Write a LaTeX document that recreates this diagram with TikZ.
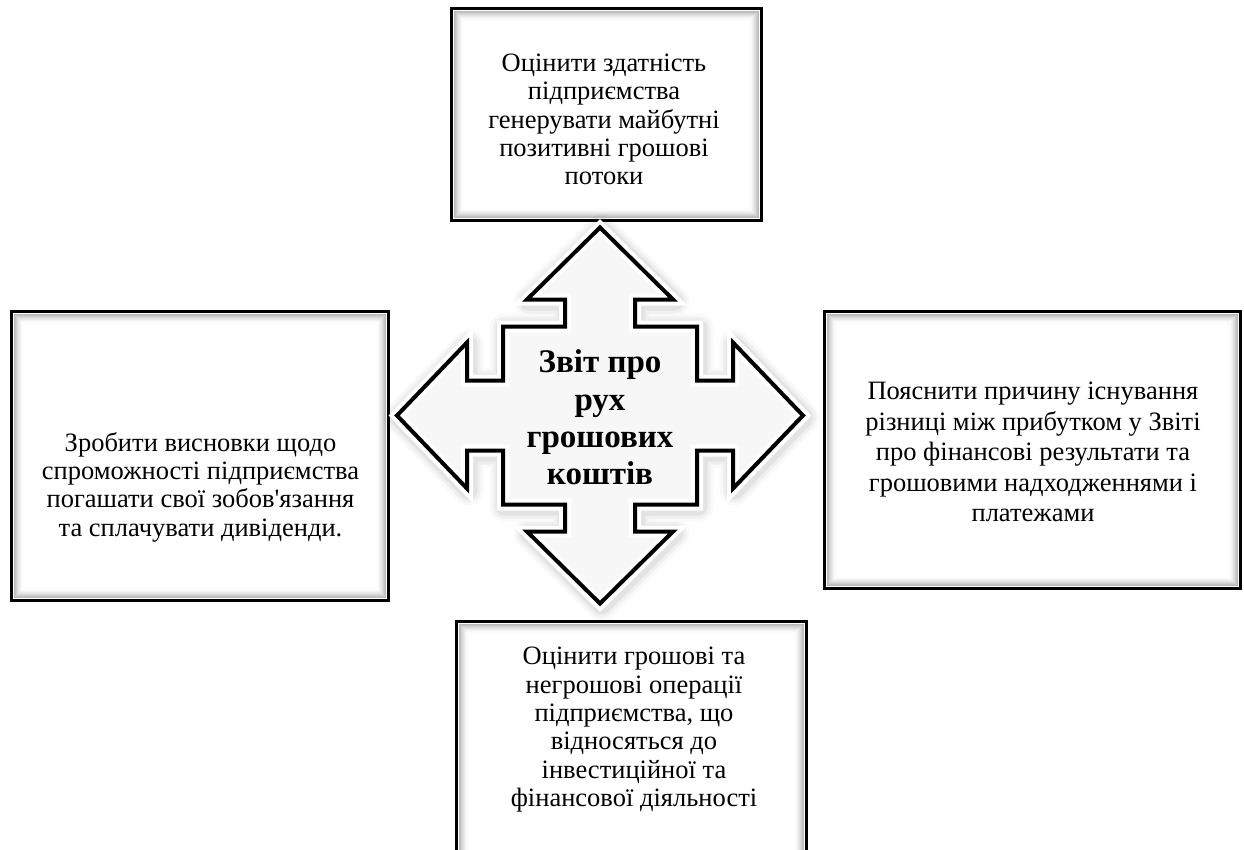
\documentclass[tikz,border=0pt]{standalone}
\usepackage{fontspec}
\setmainfont{Liberation Serif}[Ligatures=TeXOff]
\usetikzlibrary{calc}
\begin{document}
\begin{tikzpicture}[x=1pt,y=-1pt,
  infobox/.style={draw=black, line width=3pt, fill=white, rectangle, inner sep=0pt, outer sep=0pt,
    path picture={
      \foreach \i/\c in {3.5/55,4.5/46,5.5/38,6.5/30,7.5/23,8.5/16,9.5/10,10.5/5,11.5/2} {
        \draw[gray!\c, line width=1.1pt]
          ($(path picture bounding box.north west)+(\i pt,-\i pt)$) rectangle
          ($(path picture bounding box.south east)+(-\i pt,\i pt)$);
      }
    }},
  boxtext/.style={align=center, inner sep=0pt, font=\fontsize{26.5}{28.3}\selectfont},
  centertext/.style={align=center, inner sep=0pt, font=\fontsize{33}{37.3}\selectfont\bfseries}
]
\useasboundingbox (0,0) rectangle (1244,850);
\fill[white] (0,0) rectangle (1244,850);

% boxes
\node[infobox, minimum width=310pt, minimum height=212pt] (top) at (606.5,114.5) {};
\node[infobox, minimum width=377pt, minimum height=289pt] (left) at (200,456) {};
\node[infobox, minimum width=416pt, minimum height=277pt] (right) at (1032.5,450) {};
\node[infobox, minimum width=350pt, minimum height=278.5pt] (bottom) at (631.5,760.75) {};

% central quad arrow
\path[shift={(600,415.5)}, line join=miter,
  preaction={draw=black, draw opacity=0.025, line width=30pt, line join=round, transform canvas={shift={(1.5pt,-2pt)}}},
  preaction={draw=black, draw opacity=0.035, line width=24pt, line join=round, transform canvas={shift={(1.5pt,-2pt)}}},
  preaction={draw=black, draw opacity=0.05, line width=18pt, line join=round, transform canvas={shift={(1.5pt,-2pt)}}},
  preaction={fill=gray!6},
  preaction={draw=white, line width=12pt},
  draw=black, line width=4pt]
  (0,-188) -- (73,-116) -- (35,-116) -- (35,-89) -- (97,-89) -- (97,-35) -- (133,-35) -- (133,-73)
  -- (203,0) -- (133,73) -- (133,35) -- (97,35) -- (97,89) -- (35,89) -- (35,116) -- (73,116)
  -- (0,188) -- (-73,116) -- (-35,116) -- (-35,89) -- (-97,89) -- (-97,35) -- (-133,35) -- (-133,73)
  -- (-203,0) -- (-133,-73) -- (-133,-35) -- (-97,-35) -- (-97,-89) -- (-35,-89) -- (-35,-116) -- (-73,-116)
  -- cycle;

% texts
\node[centertext] (ctext) at (600,417.5) {Звіт про\\рух\\грошових\\коштів};
\node[boxtext] (ttop) at (604,119.4) {Оцінити здатність\\підприємства\\генерувати майбутні\\позитивні грошові\\потоки};
\node[boxtext] (tleft) at (200.5,487) {Зробити висновки щодо\\спроможності підприємства\\погашати свої зобов'язання\\та сплачувати дивіденди.};
\node[boxtext, font=\fontsize{26.5}{30.5}\selectfont] (tright) at (1033,452) {Пояснити причину існування\\різниці між прибутком у Звіті\\про фінансові результати та\\грошовими надходженнями і\\платежами};
\node[boxtext] (tbottom) at (634,729.6) {Оцінити грошові та\\негрошові операції\\підприємства, що\\відносяться до\\інвестиційної та\\фінансової діяльності};
\end{tikzpicture}
\end{document}
